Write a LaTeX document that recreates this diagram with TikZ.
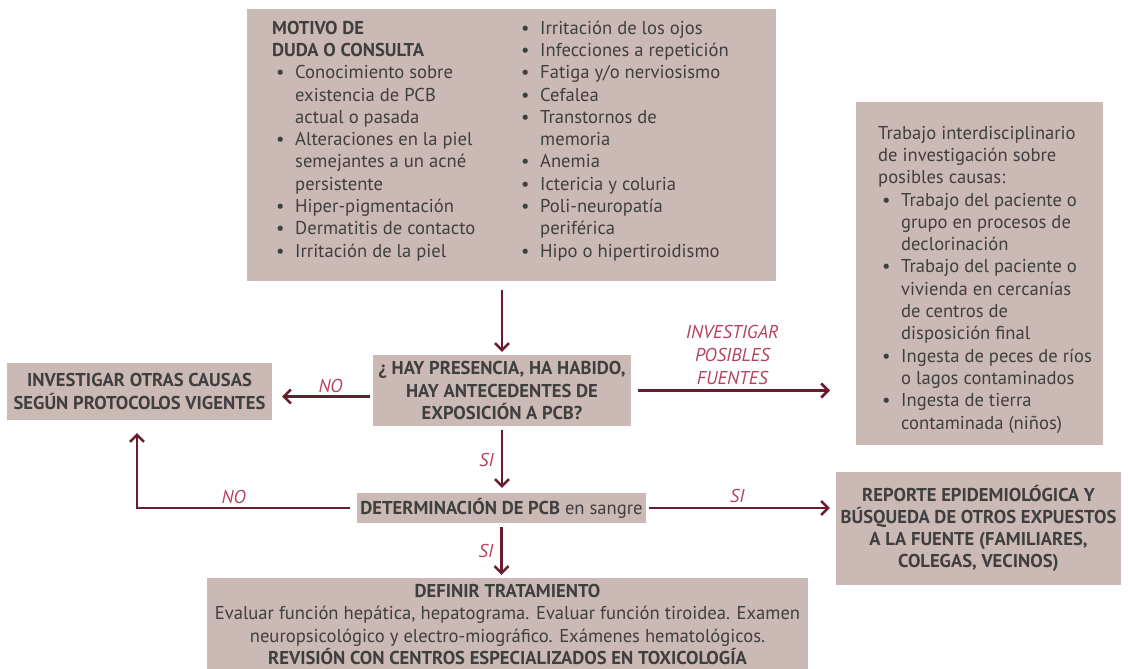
\documentclass[tikz,border=0pt]{standalone}
\usepackage{fontspec}
\setmainfont{PT Sans}
\usetikzlibrary{arrows.meta}
\definecolor{boxc}{HTML}{CBB9B5}
\definecolor{arrc}{HTML}{6A1C2C}
\definecolor{lblc}{HTML}{B5425F}
\definecolor{txtc}{HTML}{3F3F3F}
\newcommand\fsz{\fontsize{18.6pt}{22.3pt}\selectfont}
\newcommand\lfsz{\fontsize{18.6pt}{23pt}\selectfont}
\newcommand\bitem{\par\hangindent=23pt\hangafter=1\noindent\makebox[23pt][l]{\hspace{4pt}•}}
\begin{document}
\begin{tikzpicture}[x=1pt,y=-1pt,
  box/.style={fill=boxc, text=txtc, inner sep=0pt, font=\fsz},
  hd/.style={box, align=center, font=\fsz\bfseries},
  arr/.style={draw=arrc, line width=2.5pt, -{Straight Barb[length=7pt,width=14pt]}},
  lbl/.style={text=lblc, font=\lfsz\itshape, inner sep=1pt}]
\useasboundingbox (0,0) rectangle (1128,669);

\node[box, anchor=north west, minimum width=529pt, inner xsep=25pt, text height=25pt, text depth=247pt] (top) at (247,9) {%
\begin{minipage}[t]{245pt}\fsz
\textbf{MOTIVO DE\\DUDA O CONSULTA}
\bitem Conocimiento sobre\\existencia de PCB\\actual o pasada
\bitem Alteraciones en la piel\\semejantes a un acné\\persistente
\bitem Hiper-pigmentación
\bitem Dermatitis de contacto
\bitem Irritación de la piel
\end{minipage}%
\begin{minipage}[t]{234pt}\fsz
\bitem Irritación de los ojos
\bitem Infecciones a repetición
\bitem Fatiga y/o nerviosismo
\bitem Cefalea
\bitem Transtornos de\\memoria
\bitem Anemia
\bitem Ictericia y coluria
\bitem Poli-neuropatía\\periférica
\bitem Hipo o hipertiroidismo
\end{minipage}};

\node[box, anchor=north west, minimum width=247pt, inner xsep=0pt, text height=37pt, text depth=306pt] (rb) at (856,102) {%
\hspace*{22pt}\begin{minipage}[t]{225pt}\fsz
Trabajo interdisciplinario\\de investigación sobre\\posibles causas:
\bitem Trabajo del paciente o\\grupo en procesos de\\declorinación
\bitem Trabajo del paciente o\\vivienda en cercanías\\de centros de\\disposición final
\bitem Ingesta de peces de ríos\\o lagos contaminados
\bitem Ingesta de tierra\\contaminada (niños)
\end{minipage}};

\node[hd, minimum width=265pt, minimum height=57pt] (lb) at (139.5,391.5) {INVESTIGAR OTRAS CAUSAS\\SEGÚN PROTOCOLOS VIGENTES};

\node[hd, minimum width=258pt, minimum height=71pt] (q) at (502,390.5) {¿ HAY PRESENCIA, HA HABIDO,\\HAY ANTECEDENTES DE\\EXPOSICIÓN A PCB?};

\node[box, minimum width=289pt, minimum height=30pt] (det) at (501.5,508) {\textbf{DETERMINACIÓN DE PCB} en sangre};

\node[hd, minimum width=285pt, minimum height=113pt] (rep) at (978.5,528.5) {REPORTE EPIDEMIOLÓGICA Y\\BÚSQUEDA DE OTROS EXPUESTOS\\A LA FUENTE (FAMILIARES,\\COLEGAS, VECINOS)};

\node[box, align=center, minimum width=601pt, minimum height=93pt] (def) at (507.5,624.5) {\textbf{DEFINIR TRATAMIENTO}\\Evaluar función hepática, hepatograma. Evaluar función tiroidea. Examen\\neuropsicológico y electro-miográfico. Exámenes hematológicos.\\\textbf{REVISIÓN CON CENTROS ESPECIALIZADOS EN TOXICOLOGÍA}};

\draw[arr, shorten <=9pt, shorten >=3pt] (top.south -| q.north) -- (q.north);
\coordinate (a1) at ([yshift=-6pt]q.west);
\draw[arr, shorten <=3pt, shorten >=10pt] (a1) -- (a1 -| lb.east) node[lbl, pos=0.42, above=2pt] {NO};
\draw[arr, shorten <=7pt, shorten >=26pt] (q.east) -- (q.east -| rb.west) node[lbl, pos=0.45, above=4pt, align=center] {INVESTIGAR\\POSIBLES\\FUENTES};
\draw[arr, shorten <=4pt, shorten >=5pt] (q.south) -- (q.south |- det.north) node[lbl, midway, left=6pt] {SI};
\draw[arr, shorten <=7pt, shorten >=13pt] (det.west) -| ([xshift=-2.5pt]lb.south) node[lbl, pos=0.28, above=2pt] {NO};
\draw[arr, shorten <=3pt, shorten >=6pt] (det.east) -- (det.east -| rep.west) node[lbl, pos=0.48, above=3pt] {SI};
\draw[arr, shorten <=4pt, shorten >=3pt] (det.south) -- (det.south |- def.north) node[lbl, midway, left=6pt] {SI};
\end{tikzpicture}
\end{document}
